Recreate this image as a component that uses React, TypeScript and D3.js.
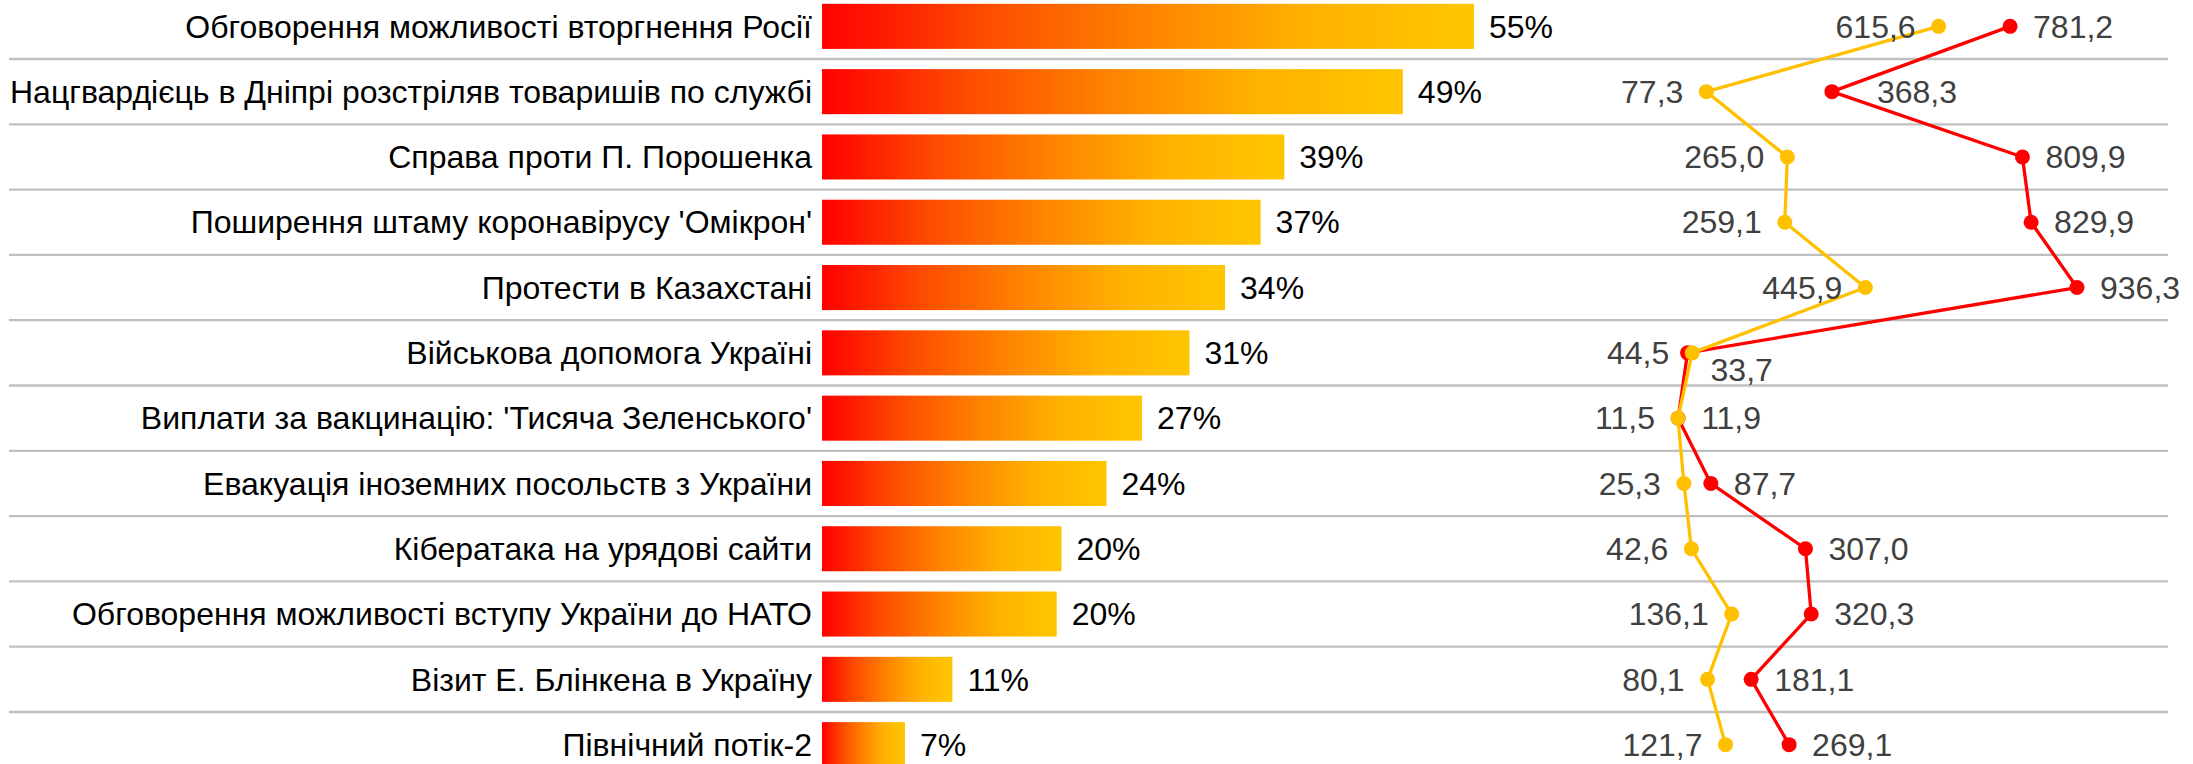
import React from "react";
import * as d3 from "d3";

const categories = [
  "Обговорення можливості вторгнення Росії",
  "Нацгвардієць в Дніпрі розстріляв товаришів по службі",
  "Справа проти П. Порошенка",
  "Поширення штаму коронавірусу 'Омікрон'",
  "Протести в Казахстані",
  "Військова допомога Україні",
  "Виплати за вакцинацію: 'Тисяча Зеленського'",
  "Евакуація іноземних посольств з України",
  "Кібератака на урядові сайти",
  "Обговорення можливості вступу України до НАТО",
  "Візит Е. Блінкена в Україну",
  "Північний потік-2",
];

const shares = [55, 49, 39, 37, 34, 31, 27, 24, 20.2, 19.8, 11, 7];

const yellowValues = [615.6, 77.3, 265.0, 259.1, 445.9, 44.5, 11.5, 25.3, 42.6, 136.1, 80.1, 121.7];
const redValues = [781.2, 368.3, 809.9, 829.9, 936.3, 33.7, 11.9, 87.7, 307.0, 320.3, 181.1, 269.1];

// manual label nudges for the red series (as placed in the original)
const redLabelNudge: Record<string, [number, number]> = {
  "Нацгвардієць в Дніпрі розстріляв товаришів по службі": [22, 0],
  "Військова допомога Україні": [0, 17],
};

const W = 2193;
const H = 764;
const FONT = "'Liberation Sans', Arial, sans-serif";
const RED = "#ff0000";
const GOLD = "#ffc000";
const FS = 32;

export default function App() {
  const step = 65.3;
  const y0 = -6.3;
  const y = d3
    .scaleBand<string>()
    .domain(categories)
    .range([y0, y0 + step * categories.length])
    .paddingInner(0.31)
    .paddingOuter(0.155);
  const cy = (c: string) => (y(c) as number) + y.bandwidth() / 2;

  const xBar = d3.scaleLinear().domain([0, 55]).range([822, 1474]);
  const xLine = d3.scaleLinear().domain([0, 936.3]).range([1673, 2077]);

  const fmt = (v: number) => v.toFixed(1).replace(".", ",");
  const pct = (v: number) => `${Math.round(v)}%`;

  const lineGen = d3
    .line<number>()
    .x((d) => xLine(d))
    .y((_, i) => cy(categories[i]));

  const separators = d3.range(1, categories.length + 1).map((i) => y0 + i * step);

  return (
    <svg
      width={W}
      height={H}
      style={{ position: "absolute", left: 0, top: 0, background: "#fff" }}
      fontFamily={FONT}
    >
      <defs>
        <linearGradient id="barGrad" x1="0" x2="1" y1="0" y2="0">
          <stop offset="0" stopColor="#ff0000" />
          <stop offset="0.25" stopColor="#fd4c00" />
          <stop offset="0.5" stopColor="#fe8400" />
          <stop offset="0.75" stopColor="#ffb200" />
          <stop offset="1" stopColor="#ffc600" />
        </linearGradient>
      </defs>

      {separators.map((s, i) => (
        <line key={i} x1={9} x2={2168} y1={s} y2={s} stroke="#bfbfbf" strokeWidth={2.3} />
      ))}

      {categories.map((c, i) => (
        <g key={c}>
          <text x={812} y={cy(c)} dy="0.35em" textAnchor="end" fontSize={FS} fill="#000">
            {c}
          </text>
          <rect
            x={xBar(0)}
            y={y(c)}
            width={xBar(shares[i]) - xBar(0)}
            height={y.bandwidth()}
            fill="url(#barGrad)"
          />
          <text x={xBar(shares[i]) + 15} y={cy(c)} dy="0.35em" fontSize={FS} fill="#000">
            {pct(shares[i])}
          </text>
        </g>
      ))}

      <path d={lineGen(redValues) || ""} fill="none" stroke={RED} strokeWidth={3.3} strokeLinejoin="round" />
      {redValues.map((v, i) => (
        <circle key={"r" + i} cx={xLine(v)} cy={cy(categories[i])} r={7.5} fill={RED} />
      ))}
      <path d={lineGen(yellowValues) || ""} fill="none" stroke={GOLD} strokeWidth={3.3} strokeLinejoin="round" />
      {yellowValues.map((v, i) => (
        <circle key={"y" + i} cx={xLine(v)} cy={cy(categories[i])} r={7.5} fill={GOLD} />
      ))}

      {redValues.map((v, i) => {
        const [dx, dy] = redLabelNudge[categories[i]] || [0, 0];
        return (
          <text
            key={"rl" + i}
            x={xLine(v) + 23 + dx}
            y={cy(categories[i]) + dy}
            dy="0.35em"
            fontSize={FS}
            fill="#404040"
          >
            {fmt(v)}
          </text>
        );
      })}
      {yellowValues.map((v, i) => (
        <text
          key={"yl" + i}
          x={xLine(v) - 23}
          y={cy(categories[i])}
          dy="0.35em"
          textAnchor="end"
          fontSize={FS}
          fill="#404040"
        >
          {fmt(v)}
        </text>
      ))}
    </svg>
  );
}
